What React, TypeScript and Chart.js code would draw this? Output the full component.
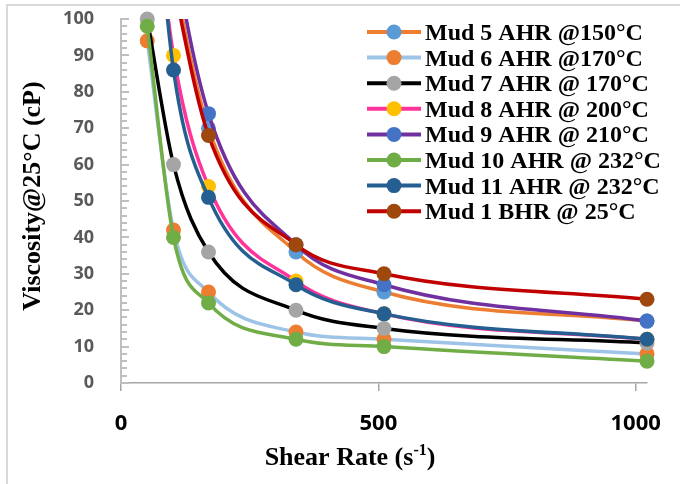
import { useEffect, useRef } from "react";
import { Chart, registerables } from "chart.js";

Chart.register(...registerables);

// Shear rates (s^-1) of the six viscometer readings
const shearRates = [51, 102, 170, 340, 511, 1022];

// Apparent viscosity (cP) for each mud sample
const mud5 = [160, 113, 70, 36, 25, 17];
const mud6 = [94, 42, 25, 14, 12, 8];
const mud7 = [100, 60, 36, 20, 15, 11];
const mud8 = [150, 90, 54, 28, 19, 12];
const mud9 = [175, 120, 74, 38, 27, 17];
const mud10 = [98, 40, 22, 12, 10, 6];
const mud11 = [160, 86, 51, 27, 19, 12];
const mud1 = [150, 110, 68, 38, 30, 23];

const seriesLabels = [
  "Mud 5 AHR @150°C",
  "Mud 6 AHR @170°C",
  "Mud 7 AHR @ 170°C",
  "Mud 8 AHR @ 200°C",
  "Mud 9 AHR @ 210°C",
  "Mud 10 AHR @ 232°C",
  "Mud 11 AHR @ 232°C",
  "Mud 1 BHR @ 25°C",
];
const seriesValues = [mud5, mud6, mud7, mud8, mud9, mud10, mud11, mud1];
const lineColors = ["#ED7D31", "#9DC3E6", "#000000", "#FF3399", "#7030A0", "#70AD47", "#255E91", "#C00000"];
const markerColors = ["#5B9BD5", "#ED7D31", "#A5A5A5", "#FFC000", "#4472C4", "#70AD47", "#255E91", "#9E480E"];

const xTickValues = [0, 500, 1000];
const yTickValues = [0, 10, 20, 30, 40, 50, 60, 70, 80, 90, 100];
const yMin = 0;
const yMax = 100;
const yMajorStep = 10;
const yMinorStep = 2;
const xMax = 1022;

const yTitle = "Viscosity@25°C (cP)";
const xTitleMain = "Shear Rate (s";
const xTitleSup = "-1";
const xTitleEnd = ")";

const SERIF = '"Liberation Serif", "Times New Roman", serif';
const SANS = '"Open Sans", "Liberation Sans", sans-serif';

const decorations = {
  id: "decorations",
  beforeDraw(chart: any) {
    const { ctx, width, height } = chart;
    ctx.save();
    ctx.fillStyle = "#ffffff";
    ctx.fillRect(0, 0, width, height);
    ctx.strokeStyle = "#d9d9d9";
    ctx.lineWidth = 2;
    ctx.strokeRect(7, 5, width + 20, height + 20);
    ctx.restore();
  },
  beforeDatasetsDraw(chart: any) {
    const { ctx, chartArea } = chart;
    const yScale = chart.scales.y;
    const xScale = chart.scales.x;
    ctx.save();
    // inside tick marks on the vertical axis
    ctx.strokeStyle = "#bfbfbf";
    ctx.lineWidth = 2;
    for (let v = yMin; v <= yMax; v += yMinorStep) {
      const py = Math.round(yScale.getPixelForValue(v));
      const len = v % yMajorStep === 0 ? 8 : 6;
      ctx.beginPath();
      ctx.moveTo(chartArea.left, py);
      ctx.lineTo(chartArea.left + len, py);
      ctx.stroke();
    }
    // tick labels
    ctx.textBaseline = "middle";
    ctx.textAlign = "right";
    ctx.font = `bold 18px ${SANS}`;
    ctx.fillStyle = "#595959";
    yTickValues.forEach((v) => {
      ctx.fillText(String(v), chartArea.left - 27, yScale.getPixelForValue(v));
    });
    ctx.textAlign = "center";
    ctx.font = `bold 22px ${SANS}`;
    ctx.fillStyle = "#000000";
    xTickValues.forEach((v) => {
      ctx.fillText(String(v), xScale.getPixelForValue(v), chartArea.bottom + 41);
    });
    ctx.restore();
  },
  afterDraw(chart: any) {
    const { ctx } = chart;
    ctx.save();
    ctx.fillStyle = "#000000";

    // vertical axis title
    ctx.save();
    ctx.translate(40, 196);
    ctx.rotate(-Math.PI / 2);
    ctx.font = `bold 26px ${SERIF}`;
    ctx.textAlign = "center";
    ctx.textBaseline = "alphabetic";
    ctx.fillText(yTitle, 0, 0);
    ctx.restore();

    // horizontal axis title with superscript
    ctx.textBaseline = "alphabetic";
    ctx.textAlign = "left";
    const mainFont = `bold 26px ${SERIF}`;
    const supFont = `bold 16px ${SERIF}`;
    ctx.font = mainFont;
    const wMain = ctx.measureText(xTitleMain).width;
    const wEnd = ctx.measureText(xTitleEnd).width;
    ctx.font = supFont;
    const wSup = ctx.measureText(xTitleSup).width;
    const total = wMain + wSup + wEnd;
    let tx = 350 - total / 2;
    const baseY = 465;
    ctx.font = mainFont;
    ctx.fillText(xTitleMain, tx, baseY);
    tx += wMain;
    ctx.font = supFont;
    ctx.fillText(xTitleSup, tx, baseY - 10);
    tx += wSup;
    ctx.font = mainFont;
    ctx.fillText(xTitleEnd, tx, baseY);

    // legend
    const rowTop = 32;
    const rowStep = 25.6;
    ctx.font = `bold 24px ${SERIF}`;
    seriesLabels.forEach((label, i) => {
      const cy = rowTop + i * rowStep;
      ctx.strokeStyle = lineColors[i];
      ctx.lineWidth = 4;
      ctx.beginPath();
      ctx.moveTo(367, cy);
      ctx.lineTo(421, cy);
      ctx.stroke();
      ctx.fillStyle = markerColors[i];
      ctx.beginPath();
      ctx.arc(394, cy, 7.5, 0, Math.PI * 2);
      ctx.fill();
      ctx.fillStyle = "#000000";
      ctx.fillText(label, 425, cy + 8);
    });
    ctx.restore();
  },
};

export default function App() {
  const canvasRef = useRef<HTMLCanvasElement | null>(null);

  useEffect(() => {
    if (!canvasRef.current) return;
    const datasets: any[] = [];
    seriesValues.forEach((vals, i) => {
      const pts = shearRates.map((x, j) => ({ x, y: vals[j] }));
      datasets.push({
        label: seriesLabels[i],
        data: pts,
        borderColor: lineColors[i],
        backgroundColor: lineColors[i],
        borderWidth: 3.5,
        pointRadius: 0,
        cubicInterpolationMode: "monotone",
        capBezierPoints: false,
        order: 100 - 2 * i,
      });
      datasets.push({
        label: seriesLabels[i] + " markers",
        data: pts.filter((p) => p.y <= yMax),
        showLine: false,
        pointRadius: 7.5,
        pointBorderWidth: 0,
        pointBackgroundColor: markerColors[i],
        pointBorderColor: markerColors[i],
        clip: false,
        order: 99 - 2 * i,
      });
    });

    const chart = new Chart(canvasRef.current, {
      type: "line",
      data: { datasets },
      plugins: [decorations],
      options: {
        animation: false,
        responsive: false,
        devicePixelRatio: 1,
        events: [],
        layout: { padding: { left: 0, top: 19, right: 33, bottom: 0 } },
        plugins: { legend: { display: false }, tooltip: { enabled: false } },
        scales: {
          x: {
            type: "linear",
            min: 0,
            max: xMax,
            afterFit: (scale: any) => {
              scale.height = 101;
            },
            afterBuildTicks: (scale: any) => {
              scale.ticks = xTickValues.map((value) => ({ value }));
            },
            grid: {
              display: true,
              drawOnChartArea: false,
              drawTicks: true,
              tickLength: 8,
              color: "#a6a6a6",
              lineWidth: 1.5,
            },
            border: { display: true, color: "#a6a6a6", width: 1.5 },
            ticks: { display: false },
          },
          y: {
            type: "linear",
            min: yMin,
            max: yMax,
            afterFit: (scale: any) => {
              scale.width = 121;
            },
            grid: { display: false },
            border: { display: true, color: "#bfbfbf", width: 2 },
            ticks: { display: false, stepSize: yMajorStep },
          },
        },
      },
    });
    return () => chart.destroy();
  }, []);

  return (
    <div style={{ position: "absolute", left: 0, top: 0, width: 680, height: 484, background: "#fff" }}>
      <canvas ref={canvasRef} width={680} height={484} style={{ display: "block" }} />
    </div>
  );
}
